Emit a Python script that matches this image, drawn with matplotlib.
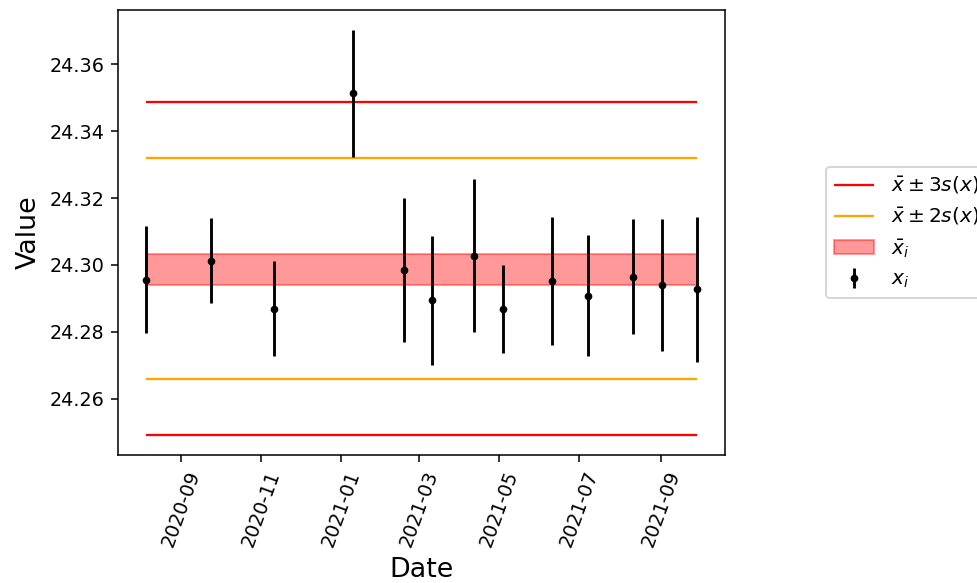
import matplotlib
matplotlib.use("Agg")
import matplotlib.pyplot as plt
import pandas as pd

dates = pd.to_datetime(["2020-08-05", "2020-09-24", "2020-11-11", "2021-01-10",
                        "2021-02-18", "2021-03-11", "2021-04-12", "2021-05-04",
                        "2021-06-10", "2021-07-08", "2021-08-11", "2021-09-02",
                        "2021-09-29"])
values = [24.2955, 24.3013, 24.2869, 24.3513, 24.2985, 24.2894, 24.3028,
          24.2869, 24.2952, 24.2908, 24.2965, 24.2940, 24.2927]
errors = [0.0160, 0.0127, 0.0142, 0.0189, 0.0215, 0.0192, 0.0230,
          0.0132, 0.0192, 0.0180, 0.0173, 0.0197, 0.0216]

# control limits
x_mean = 24.2989
s_x = 0.01657
band_lo = 24.2939
band_hi = 24.3032

dpi = 138
fig = plt.figure(figsize=(977 / dpi, 583 / dpi), dpi=dpi)
ax = fig.add_axes([118 / 977, 1 - 455 / 583, 607 / 977, 445 / 583])

ax.hlines([x_mean + 3 * s_x, x_mean - 3 * s_x], dates[0], dates[-1],
          color="red", linewidth=1.2, label=r"$\bar{x} \pm 3s(x)$")
ax.hlines([x_mean + 2 * s_x, x_mean - 2 * s_x], dates[0], dates[-1],
          color="orange", linewidth=1.2, label=r"$\bar{x} \pm 2s(x)$")
ax.fill_between([dates[0], dates[-1]], band_lo, band_hi, color="red",
                alpha=0.4, label=r"$\bar{x}_i$")
ax.errorbar(dates, values, yerr=errors, fmt=".", color="black", label=r"$x_i$")

ax.set_xlabel("Date", fontsize=14)
ax.set_ylabel("Value", fontsize=14)
ax.set_yticks([24.26, 24.28, 24.30, 24.32, 24.34, 24.36])
plt.setp(ax.get_xticklabels(), rotation=70)

# legend sits outside the axes and runs off the right edge, as in the reference
ax.legend(loc="center left", bbox_to_anchor=(1.15, 0.5), fontsize=10.5)

fig.savefig("out.png", dpi=dpi)
